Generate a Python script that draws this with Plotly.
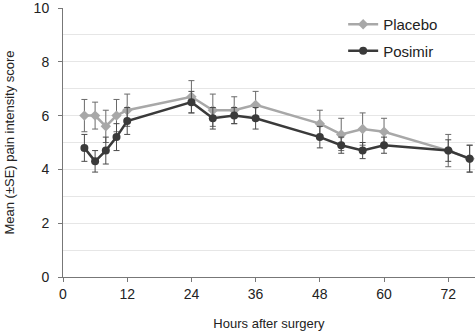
import plotly.graph_objects as go

hours = [4, 6, 8, 10, 12, 24, 28, 32, 36, 48, 52, 56, 60, 72, 76]
placebo = [6.0, 6.0, 5.6, 6.0, 6.2, 6.7, 6.2, 6.2, 6.4, 5.7, 5.3, 5.5, 5.4, 4.7, 4.4]
placebo_se = [0.6, 0.5, 0.6, 0.6, 0.6, 0.6, 0.6, 0.5, 0.5, 0.5, 0.6, 0.6, 0.5, 0.6, 0.5]
posimir = [4.8, 4.3, 4.7, 5.2, 5.8, 6.5, 5.9, 6.0, 5.9, 5.2, 4.9, 4.7, 4.9, 4.7, 4.4]
posimir_se = [0.5, 0.4, 0.5, 0.5, 0.5, 0.4, 0.4, 0.3, 0.4, 0.4, 0.3, 0.3, 0.3, 0.4, 0.5]

fig = go.Figure()
fig.add_trace(go.Scatter(
    x=hours, y=placebo, name="Placebo", mode="lines+markers", legendgroup="a",
    line=dict(color="#a8a8a8", width=2.5),
    marker=dict(symbol="diamond", size=8, color="#a8a8a8"),
    error_y=dict(type="data", array=placebo_se, color="#6a6a6a", thickness=1, width=3),
))
fig.add_trace(go.Scatter(
    x=hours, y=posimir, name="Posimir", mode="lines+markers", legendgroup="b",
    line=dict(color="#3a3a3a", width=2.5),
    marker=dict(symbol="circle", size=8, color="#3a3a3a"),
    error_y=dict(type="data", array=posimir_se, color="#4a4a4a", thickness=1, width=3),
))

fig.update_layout(
    width=475, height=334,
    margin=dict(l=63, r=0, t=6, b=57),
    paper_bgcolor="white", plot_bgcolor="white",
    font=dict(family="Arial, Liberation Sans, sans-serif", color="#222222"),
    legend=dict(x=0.68, y=1.0, xanchor="left", yanchor="top",
                font=dict(size=15), bgcolor="rgba(0,0,0,0)", tracegroupgap=4),
    showlegend=True,
)
fig.update_xaxes(
    range=[0, 77], tickvals=[0, 12, 24, 36, 48, 60, 72],
    showgrid=False, zeroline=False, showline=True, linecolor="#777777", linewidth=1,
    ticks="outside", ticklen=4, tickcolor="#777777", tickfont=dict(size=14),
    title=dict(text="Hours after surgery", font=dict(size=13), standoff=18),
)
fig.update_yaxes(
    range=[0, 10], tickvals=[0, 2, 4, 6, 8, 10],
    showgrid=True, gridcolor="#e6e6e6", gridwidth=1,
    minor=dict(dtick=1, showgrid=True, gridcolor="#e6e6e6"),
    zeroline=False, showline=True, linecolor="#777777", linewidth=1,
    ticks="outside", ticklen=4, tickcolor="#777777", tickfont=dict(size=14),
    ticklabelstandoff=6, ticklabeloverflow="allow",
    title=dict(text="Mean (±SE) pain intensity score", font=dict(size=13), standoff=16),
)

fig.write_html("out.html")
